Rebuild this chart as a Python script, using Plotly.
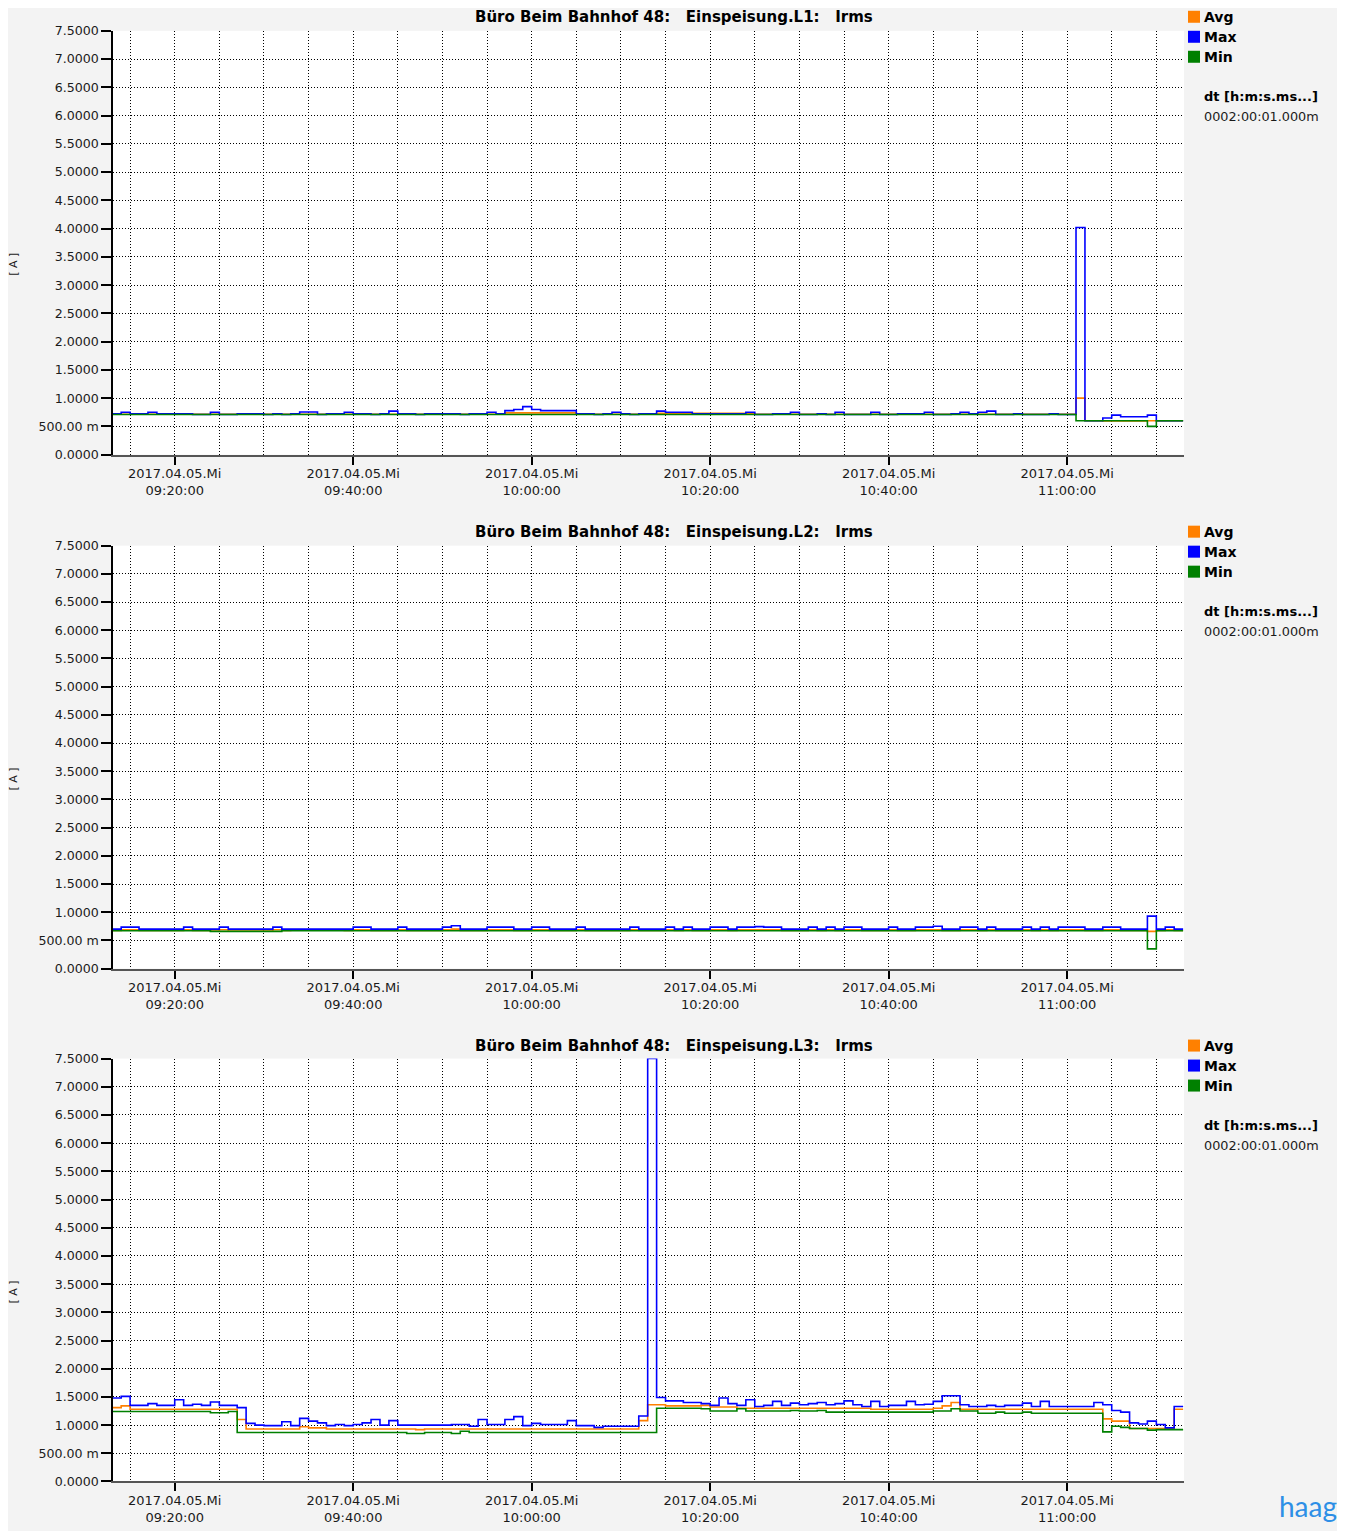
import plotly.graph_objects as go
import pandas as pd

# page is 1345x1539; the html body keeps its default 8px margin, so the
# figure itself is 16px smaller. Positions below are given in the target
# picture's pixels and mapped onto the figure (the capture is squeezed a
# little vertically, measured: pic_y = 7.3 + 0.99035 * page_y).
PAGE_W, PAGE_H = 1345, 1539
OFF = 8
W, H = PAGE_W - 2 * OFF, PAGE_H - 2 * OFF
Y_A, Y_S = 7.3, 0.99035

# ---------------- data ----------------
start_time = "2017-04-05 09:13:00"     # first 1-minute interval
n_steps = 120
x_start = "2017-04-05 09:13:05"
x_end = "2017-04-05 11:13:06"

tick_times = ["2017-04-05 09:20:00", "2017-04-05 09:40:00", "2017-04-05 10:00:00",
              "2017-04-05 10:20:00", "2017-04-05 10:40:00", "2017-04-05 11:00:00"]
tick_labels = ["2017.04.05.Mi<br>09:20:00", "2017.04.05.Mi<br>09:40:00", "2017.04.05.Mi<br>10:00:00",
               "2017.04.05.Mi<br>10:20:00", "2017.04.05.Mi<br>10:40:00", "2017.04.05.Mi<br>11:00:00"]
y_tick_vals = [0.0, 0.5, 1.0, 1.5, 2.0, 2.5, 3.0, 3.5, 4.0, 4.5, 5.0, 5.5, 6.0, 6.5, 7.0, 7.5]
y_tick_text = ["0.0000", "500.00 m", "1.0000", "1.5000", "2.0000", "2.5000", "3.0000", "3.5000",
               "4.0000", "4.5000", "5.0000", "5.5000", "6.0000", "6.5000", "7.0000", "7.5000"]

titles = ["Büro Beim Bahnhof 48:\u00a0\u00a0\u00a0Einspeisung.L1:\u00a0\u00a0\u00a0Irms",
          "Büro Beim Bahnhof 48:\u00a0\u00a0\u00a0Einspeisung.L2:\u00a0\u00a0\u00a0Irms",
          "Büro Beim Bahnhof 48:\u00a0\u00a0\u00a0Einspeisung.L3:\u00a0\u00a0\u00a0Irms"]
series_names = ["Avg", "Max", "Min"]
series_colors = ["#ff8000", "#0000ff", "#008000"]
dt_label = "dt [h:m:s.ms...]"
dt_value = "0002:00:01.000m"

L1_avg = [0.715, 0.715, 0.715, 0.715, 0.715, 0.715, 0.715, 0.715, 0.715, 0.715,
          0.715, 0.715, 0.715, 0.715, 0.715, 0.715, 0.715, 0.715, 0.715, 0.715,
          0.715, 0.715, 0.715, 0.715, 0.715, 0.715, 0.715, 0.715, 0.715, 0.715,
          0.715, 0.715, 0.715, 0.715, 0.715, 0.715, 0.715, 0.715, 0.715, 0.715,
          0.715, 0.715, 0.715, 0.715, 0.74, 0.74, 0.74, 0.74, 0.74, 0.74,
          0.74, 0.74, 0.715, 0.715, 0.715, 0.715, 0.715, 0.715, 0.715, 0.715,
          0.715, 0.73, 0.73, 0.73, 0.73, 0.73, 0.73, 0.73, 0.73, 0.73,
          0.73, 0.73, 0.715, 0.715, 0.715, 0.715, 0.715, 0.715, 0.715, 0.715,
          0.715, 0.715, 0.715, 0.715, 0.715, 0.715, 0.715, 0.715, 0.715, 0.715,
          0.715, 0.715, 0.715, 0.715, 0.715, 0.715, 0.715, 0.715, 0.715, 0.715,
          0.715, 0.715, 0.715, 0.715, 0.715, 0.715, 0.715, 0.715, 1.00, 0.60,
          0.60, 0.595, 0.595, 0.595, 0.595, 0.595, 0.60, 0.60, 0.60, 0.60]
L1_max = [0.725, 0.75, 0.725, 0.725, 0.75, 0.725, 0.725, 0.725, 0.725, 0.71,
          0.71, 0.75, 0.71, 0.71, 0.725, 0.725, 0.725, 0.71, 0.725, 0.71,
          0.725, 0.755, 0.755, 0.71, 0.725, 0.725, 0.75, 0.725, 0.725, 0.71,
          0.725, 0.77, 0.725, 0.725, 0.71, 0.725, 0.725, 0.725, 0.725, 0.71,
          0.725, 0.725, 0.75, 0.725, 0.78, 0.80, 0.85, 0.80, 0.78, 0.78,
          0.78, 0.78, 0.725, 0.725, 0.71, 0.725, 0.75, 0.725, 0.71, 0.725,
          0.725, 0.77, 0.75, 0.75, 0.75, 0.725, 0.725, 0.725, 0.725, 0.725,
          0.725, 0.75, 0.71, 0.71, 0.725, 0.725, 0.75, 0.71, 0.71, 0.725,
          0.71, 0.75, 0.71, 0.71, 0.71, 0.75, 0.71, 0.71, 0.725, 0.725,
          0.725, 0.75, 0.71, 0.71, 0.725, 0.75, 0.725, 0.75, 0.77, 0.71,
          0.71, 0.725, 0.71, 0.71, 0.71, 0.725, 0.71, 0.71, 4.02, 0.60,
          0.60, 0.65, 0.70, 0.67, 0.67, 0.67, 0.70, 0.60, 0.60, 0.60]
L1_min = [0.71, 0.71, 0.71, 0.71, 0.71, 0.71, 0.71, 0.71, 0.71, 0.71,
          0.71, 0.71, 0.71, 0.71, 0.71, 0.71, 0.71, 0.71, 0.71, 0.71,
          0.71, 0.71, 0.71, 0.71, 0.71, 0.71, 0.71, 0.71, 0.71, 0.71,
          0.71, 0.71, 0.71, 0.71, 0.71, 0.71, 0.71, 0.71, 0.71, 0.71,
          0.71, 0.71, 0.71, 0.71, 0.71, 0.71, 0.71, 0.71, 0.71, 0.71,
          0.71, 0.71, 0.71, 0.71, 0.71, 0.71, 0.71, 0.71, 0.71, 0.71,
          0.71, 0.71, 0.71, 0.71, 0.71, 0.71, 0.71, 0.71, 0.71, 0.71,
          0.71, 0.71, 0.71, 0.71, 0.71, 0.71, 0.71, 0.71, 0.71, 0.71,
          0.71, 0.71, 0.71, 0.71, 0.71, 0.71, 0.71, 0.71, 0.71, 0.71,
          0.71, 0.71, 0.71, 0.71, 0.71, 0.71, 0.71, 0.71, 0.71, 0.71,
          0.71, 0.71, 0.71, 0.71, 0.71, 0.71, 0.71, 0.71, 0.60, 0.60,
          0.60, 0.60, 0.60, 0.60, 0.60, 0.60, 0.50, 0.60, 0.60, 0.60]

L2_avg = [0.675, 0.69, 0.69, 0.675, 0.675, 0.675, 0.675, 0.675, 0.69, 0.675,
          0.675, 0.665, 0.69, 0.665, 0.665, 0.665, 0.665, 0.665, 0.69, 0.675,
          0.69, 0.69, 0.69, 0.69, 0.69, 0.69, 0.675, 0.69, 0.69, 0.675,
          0.675, 0.675, 0.69, 0.675, 0.675, 0.675, 0.675, 0.69, 0.70, 0.675,
          0.675, 0.675, 0.69, 0.69, 0.69, 0.675, 0.675, 0.69, 0.69, 0.675,
          0.675, 0.675, 0.69, 0.675, 0.675, 0.675, 0.675, 0.675, 0.69, 0.675,
          0.675, 0.675, 0.69, 0.675, 0.69, 0.675, 0.675, 0.69, 0.69, 0.675,
          0.69, 0.69, 0.69, 0.69, 0.69, 0.675, 0.675, 0.675, 0.69, 0.675,
          0.69, 0.675, 0.69, 0.69, 0.675, 0.675, 0.675, 0.69, 0.675, 0.675,
          0.69, 0.69, 0.69, 0.675, 0.675, 0.69, 0.69, 0.675, 0.69, 0.675,
          0.675, 0.675, 0.69, 0.675, 0.69, 0.675, 0.69, 0.69, 0.69, 0.675,
          0.675, 0.69, 0.69, 0.675, 0.675, 0.675, 0.66, 0.675, 0.69, 0.675]
L2_max = [0.70, 0.735, 0.735, 0.70, 0.70, 0.70, 0.70, 0.70, 0.735, 0.70,
          0.70, 0.70, 0.735, 0.70, 0.70, 0.70, 0.70, 0.70, 0.735, 0.70,
          0.70, 0.70, 0.70, 0.70, 0.70, 0.70, 0.70, 0.735, 0.735, 0.70,
          0.70, 0.70, 0.735, 0.70, 0.70, 0.70, 0.70, 0.735, 0.76, 0.70,
          0.70, 0.70, 0.735, 0.735, 0.735, 0.70, 0.70, 0.735, 0.735, 0.70,
          0.70, 0.70, 0.735, 0.70, 0.70, 0.70, 0.70, 0.70, 0.735, 0.70,
          0.70, 0.70, 0.735, 0.70, 0.735, 0.70, 0.70, 0.735, 0.735, 0.70,
          0.735, 0.735, 0.745, 0.735, 0.735, 0.70, 0.70, 0.70, 0.735, 0.70,
          0.735, 0.70, 0.735, 0.735, 0.70, 0.70, 0.70, 0.735, 0.70, 0.70,
          0.735, 0.735, 0.75, 0.70, 0.70, 0.735, 0.735, 0.70, 0.735, 0.70,
          0.70, 0.70, 0.735, 0.70, 0.735, 0.70, 0.735, 0.735, 0.735, 0.70,
          0.70, 0.735, 0.735, 0.70, 0.70, 0.70, 0.93, 0.70, 0.735, 0.70]
L2_min = [0.67, 0.67, 0.67, 0.67, 0.67, 0.67, 0.67, 0.67, 0.67, 0.67,
          0.67, 0.66, 0.66, 0.66, 0.66, 0.66, 0.66, 0.66, 0.66, 0.67,
          0.67, 0.67, 0.67, 0.67, 0.67, 0.67, 0.67, 0.67, 0.67, 0.67,
          0.67, 0.67, 0.67, 0.67, 0.67, 0.67, 0.67, 0.67, 0.67, 0.67,
          0.67, 0.67, 0.67, 0.67, 0.67, 0.67, 0.67, 0.67, 0.67, 0.67,
          0.67, 0.67, 0.67, 0.67, 0.67, 0.67, 0.67, 0.67, 0.67, 0.67,
          0.67, 0.67, 0.67, 0.67, 0.67, 0.67, 0.67, 0.67, 0.67, 0.67,
          0.67, 0.67, 0.67, 0.67, 0.67, 0.67, 0.67, 0.67, 0.67, 0.67,
          0.67, 0.67, 0.67, 0.67, 0.67, 0.67, 0.67, 0.67, 0.67, 0.67,
          0.67, 0.67, 0.67, 0.67, 0.67, 0.67, 0.67, 0.67, 0.67, 0.67,
          0.67, 0.67, 0.67, 0.67, 0.67, 0.67, 0.67, 0.67, 0.67, 0.67,
          0.67, 0.67, 0.67, 0.67, 0.67, 0.67, 0.35, 0.67, 0.67, 0.67]

L3_avg = [1.31, 1.34, 1.28, 1.28, 1.28, 1.28, 1.28, 1.28, 1.28, 1.28,
          1.28, 1.28, 1.28, 1.28, 1.10, 0.93, 0.93, 0.93, 0.93, 0.93,
          0.93, 0.97, 0.95, 0.95, 0.93, 0.93, 0.93, 0.93, 0.93, 0.93,
          0.93, 0.93, 0.93, 0.93, 0.92, 0.93, 0.93, 0.93, 0.93, 0.93,
          0.93, 0.93, 0.93, 0.93, 0.93, 0.93, 0.93, 0.93, 0.93, 0.93,
          0.93, 0.93, 0.93, 0.93, 0.93, 0.93, 0.93, 0.93, 0.93, 1.08,
          1.36, 1.36, 1.34, 1.34, 1.34, 1.34, 1.35, 1.32, 1.32, 1.32,
          1.30, 1.30, 1.30, 1.30, 1.30, 1.30, 1.30, 1.30, 1.30, 1.30,
          1.30, 1.30, 1.30, 1.30, 1.30, 1.28, 1.28, 1.28, 1.28, 1.28,
          1.28, 1.28, 1.30, 1.34, 1.40, 1.28, 1.28, 1.28, 1.28, 1.28,
          1.28, 1.28, 1.28, 1.28, 1.28, 1.28, 1.28, 1.28, 1.28, 1.28,
          1.28, 1.11, 1.07, 1.07, 0.94, 0.94, 0.94, 0.94, 0.94, 1.28]
L3_max = [1.48, 1.51, 1.35, 1.35, 1.38, 1.35, 1.35, 1.45, 1.35, 1.37,
          1.35, 1.41, 1.35, 1.35, 1.31, 1.03, 1.00, 0.99, 0.99, 1.06,
          0.99, 1.12, 1.07, 1.04, 0.99, 1.01, 0.99, 1.01, 1.04, 1.10,
          1.00, 1.08, 1.00, 1.00, 1.00, 1.00, 1.00, 1.00, 1.01, 1.01,
          0.98, 1.10, 1.01, 1.01, 1.10, 1.15, 0.99, 1.03, 1.01, 1.01,
          1.01, 1.08, 0.99, 0.99, 0.96, 0.98, 0.98, 0.98, 0.98, 1.16,
          7.50, 1.49, 1.43, 1.43, 1.40, 1.40, 1.38, 1.35, 1.48, 1.38,
          1.35, 1.45, 1.33, 1.35, 1.42, 1.35, 1.39, 1.36, 1.38, 1.40,
          1.36, 1.38, 1.43, 1.36, 1.33, 1.42, 1.33, 1.35, 1.35, 1.42,
          1.36, 1.37, 1.42, 1.52, 1.52, 1.36, 1.33, 1.33, 1.35, 1.33,
          1.35, 1.35, 1.39, 1.33, 1.42, 1.33, 1.33, 1.33, 1.33, 1.33,
          1.40, 1.36, 1.26, 1.23, 1.04, 1.02, 1.07, 1.01, 0.95, 1.33]
L3_min = [1.24, 1.24, 1.24, 1.24, 1.24, 1.24, 1.24, 1.24, 1.24, 1.24,
          1.24, 1.22, 1.22, 1.24, 0.87, 0.87, 0.87, 0.87, 0.87, 0.87,
          0.87, 0.87, 0.87, 0.87, 0.87, 0.87, 0.87, 0.87, 0.87, 0.87,
          0.87, 0.87, 0.87, 0.85, 0.85, 0.87, 0.87, 0.87, 0.85, 0.89,
          0.87, 0.87, 0.87, 0.87, 0.87, 0.87, 0.87, 0.87, 0.87, 0.87,
          0.87, 0.87, 0.87, 0.87, 0.87, 0.87, 0.87, 0.87, 0.87, 0.87,
          0.87, 1.30, 1.30, 1.30, 1.30, 1.30, 1.29, 1.25, 1.25, 1.25,
          1.29, 1.25, 1.25, 1.25, 1.25, 1.25, 1.26, 1.25, 1.25, 1.26,
          1.23, 1.23, 1.23, 1.23, 1.23, 1.23, 1.23, 1.23, 1.23, 1.23,
          1.23, 1.23, 1.25, 1.25, 1.29, 1.25, 1.25, 1.21, 1.21, 1.23,
          1.21, 1.21, 1.23, 1.21, 1.21, 1.21, 1.21, 1.21, 1.21, 1.21,
          1.21, 0.88, 0.98, 0.96, 0.94, 0.94, 0.91, 0.92, 0.92, 0.92]

panels = [(L1_avg, L1_max, L1_min), (L2_avg, L2_max, L2_min), (L3_avg, L3_max, L3_min)]

# ---------------- layout geometry (picture pixels) ----------------
plot_left, plot_right = 113, 1184
panel_tops = [30, 545, 1058]
panel_bottoms = [454, 968, 1481]
title_ys = [16, 531, 1045]

FONT = "DejaVu Sans"
TXT = "#1a1a1a"
GRID = "#000000"


def px_x(p):
    return (p - OFF) / W


def px_y(p):
    page_y = (p - Y_A) / Y_S
    return 1 - (page_y - OFF) / H


# step boundaries: one point per minute start + the end of the last minute
times = pd.date_range(start_time, periods=n_steps + 1, freq="1min")

fig = go.Figure()
shapes = []
annotations = []

for i, (avg, mx, mn) in enumerate(panels):
    k = "" if i == 0 else str(i + 1)
    for name, color, vals in zip(series_names, series_colors, (avg, mx, mn)):
        fig.add_trace(go.Scatter(
            x=times, y=list(vals) + [vals[-1]], mode="lines", name=name,
            line=dict(color=color, width=1.6, shape="hv"),
            xaxis="x" + k, yaxis="y" + k, showlegend=False, hoverinfo="skip"))

    fig.layout["xaxis" + k] = dict(
        domain=[px_x(plot_left), px_x(plot_right)], anchor="y" + k, type="date",
        range=[x_start, x_end], tickmode="array", tickvals=tick_times, ticktext=tick_labels,
        ticks="outside", ticklen=8, tickwidth=1.5, tickcolor="#000000", ticklabelstandoff=-2,
        showline=True, linecolor="#555555", linewidth=2,
        showgrid=True, gridcolor=GRID, gridwidth=1, griddash="1px,2px",
        minor=dict(tickmode="linear", tick0="2017-04-05 09:15:00", dtick=300000,
                   showgrid=True, gridcolor=GRID, gridwidth=1, griddash="1px,2px", ticks=""),
        zeroline=False, tickfont=dict(family=FONT, size=13, color=TXT), fixedrange=True)
    fig.layout["yaxis" + k] = dict(
        domain=[px_y(panel_bottoms[i]), px_y(panel_tops[i])], anchor="x" + k,
        range=[0, 7.5], tickmode="array", tickvals=y_tick_vals, ticktext=y_tick_text,
        ticks="outside", ticklen=10, tickwidth=1.5, tickcolor="#000000",
        showline=True, linecolor="#000000", linewidth=1.5,
        showgrid=True, gridcolor=GRID, gridwidth=1, griddash="1px,2px",
        zeroline=False, tickfont=dict(family=FONT, size=12.6, color=TXT), fixedrange=True)

    # panel title
    annotations.append(dict(
        x=px_x(674), y=px_y(title_ys[i]), xref="paper", yref="paper",
        text="<b>" + titles[i] + "</b>", showarrow=False, xanchor="center", yanchor="middle",
        font=dict(family=FONT, size=15, color="#000000")))
    # y axis unit
    annotations.append(dict(
        x=px_x(14), y=px_y(panel_tops[i] + 233), xref="paper", yref="paper",
        text="[ A ]", showarrow=False, textangle=-90, xanchor="center", yanchor="middle",
        font=dict(family=FONT, size=11, color=TXT)))
    # legend block
    off = title_ys[i] - title_ys[0]
    for j, (name, color) in enumerate(zip(series_names, series_colors)):
        cy = 16 + off + 20 * j
        shapes.append(dict(type="rect", xref="paper", yref="paper",
                           x0=px_x(1188), x1=px_x(1200), y0=px_y(cy + 6), y1=px_y(cy - 6),
                           fillcolor=color, line=dict(width=0)))
        annotations.append(dict(
            x=px_x(1202), y=px_y(cy), xref="paper", yref="paper", text="<b>" + name + "</b>",
            showarrow=False, xanchor="left", yanchor="middle",
            font=dict(family=FONT, size=14, color="#000000")))
    annotations.append(dict(
        x=px_x(1202), y=px_y(96 + off), xref="paper", yref="paper", text="<b>" + dt_label + "</b>",
        showarrow=False, xanchor="left", yanchor="middle",
        font=dict(family=FONT, size=13, color="#000000")))
    annotations.append(dict(
        x=px_x(1202), y=px_y(116 + off), xref="paper", yref="paper", text=dt_value,
        showarrow=False, xanchor="left", yanchor="middle",
        font=dict(family=FONT, size=12.8, color=TXT)))

# logo text, kept fully inside the figure's bottom-right corner
annotations.append(dict(
    x=(1338 - OFF) / W, y=0.0, xref="paper", yref="paper", text="haag",
    showarrow=False, xanchor="right", yanchor="bottom", borderpad=0,
    font=dict(family="Lato", size=28, color="#2d8fe6")))

fig.update_layout(
    width=W, height=H, margin=dict(l=0, r=0, t=0, b=0),
    paper_bgcolor="#f3f3f3", plot_bgcolor="#ffffff",
    shapes=shapes, annotations=annotations, showlegend=False)

fig.write_html("out.html")
